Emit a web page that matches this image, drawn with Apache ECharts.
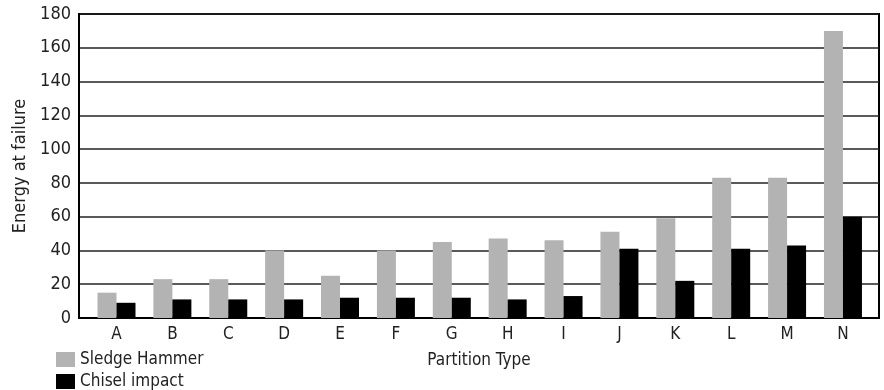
<!DOCTYPE html>
<html>
<head>
<meta charset="utf-8">
<script src="https://cdn.jsdelivr.net/npm/echarts@6/dist/echarts.min.js"></script>
<style>html,body{margin:0;padding:0;background:#fff}#c{width:884px;height:390px}</style>
</head>
<body>
<div id="c"></div>
<script>
var categories = ['A','B','C','D','E','F','G','H','I','J','K','L','M','N'];
var sledgeHammer = [15, 23, 23, 40, 25, 40, 45, 47, 46, 51, 59, 83, 83, 170];
var chiselImpact = [9, 11, 11, 11, 12, 12, 12, 11, 13, 41, 22, 41, 43, 60];
var yTicks = [0, 20, 40, 60, 80, 100, 120, 140, 160, 180];

var FONT = "'Liberation Sans Narrow', 'DejaVu Sans Condensed', sans-serif";
var positions = categories.map(function(c, i){ return i; });

var legendText = {fontFamily: FONT, fontSize: 17, color: '#222'};
var chart = echarts.init(document.getElementById('c'), null, {renderer:'canvas'});
chart.setOption({
  animation: false,
  textStyle: {fontFamily: FONT},
  grid: {left: 79, right: 5, top: 14, bottom: 72, show: true, borderColor: '#000', borderWidth: 2, containLabel: false},
  legend: [
    {left: 56, top: 351, padding: 0, itemWidth: 19, itemHeight: 15, icon: 'rect', itemGap: 4,
     textStyle: legendText, data: ['Sledge Hammer']},
    {left: 56, top: 373, padding: 0, itemWidth: 19, itemHeight: 15, icon: 'rect', itemGap: 4,
     textStyle: legendText, data: ['Chisel impact']}
  ],
  xAxis: {
    type: 'value', min: -0.671, max: 13.645,
    name: 'Partition Type', nameLocation: 'middle', nameGap: 34,
    nameTextStyle: {fontFamily: FONT, fontSize: 17, color: '#222'},
    axisLine: {show: true, onZero: false, lineStyle: {color: '#000', width: 2}},
    axisTick: {show: false},
    splitLine: {show: false},
    axisLabel: {
      customValues: positions, margin: 8, fontFamily: FONT, fontSize: 17, color: '#222',
      formatter: function(v){ return categories[Math.round(v)] || ''; }
    }
  },
  yAxis: {
    type: 'value', min: 0, max: 180, interval: 20,
    name: 'Energy at failure', nameLocation: 'middle', nameGap: 44,
    nameTextStyle: {fontFamily: FONT, fontSize: 18, color: '#222'},
    axisLine: {show: true, onZero: false, lineStyle: {color: '#000', width: 2}},
    axisTick: {show: false},
    splitLine: {show: true, lineStyle: {color: '#222', width: 1.5}},
    axisLabel: {
      customValues: yTicks, margin: 8, fontFamily: FONT, fontSize: 18, color: '#222'
    }
  },
  series: [
    {name: 'Sledge Hammer', type: 'bar', barWidth: 19, barGap: '0%',
     itemStyle: {color: '#b3b3b3'},
     data: sledgeHammer.map(function(v, i){ return [positions[i], v]; })},
    {name: 'Chisel impact', type: 'bar', barWidth: 19, barGap: '0%',
     itemStyle: {color: '#000'},
     data: chiselImpact.map(function(v, i){ return [positions[i], v]; })}
  ]
});
</script>
</body>
</html>
